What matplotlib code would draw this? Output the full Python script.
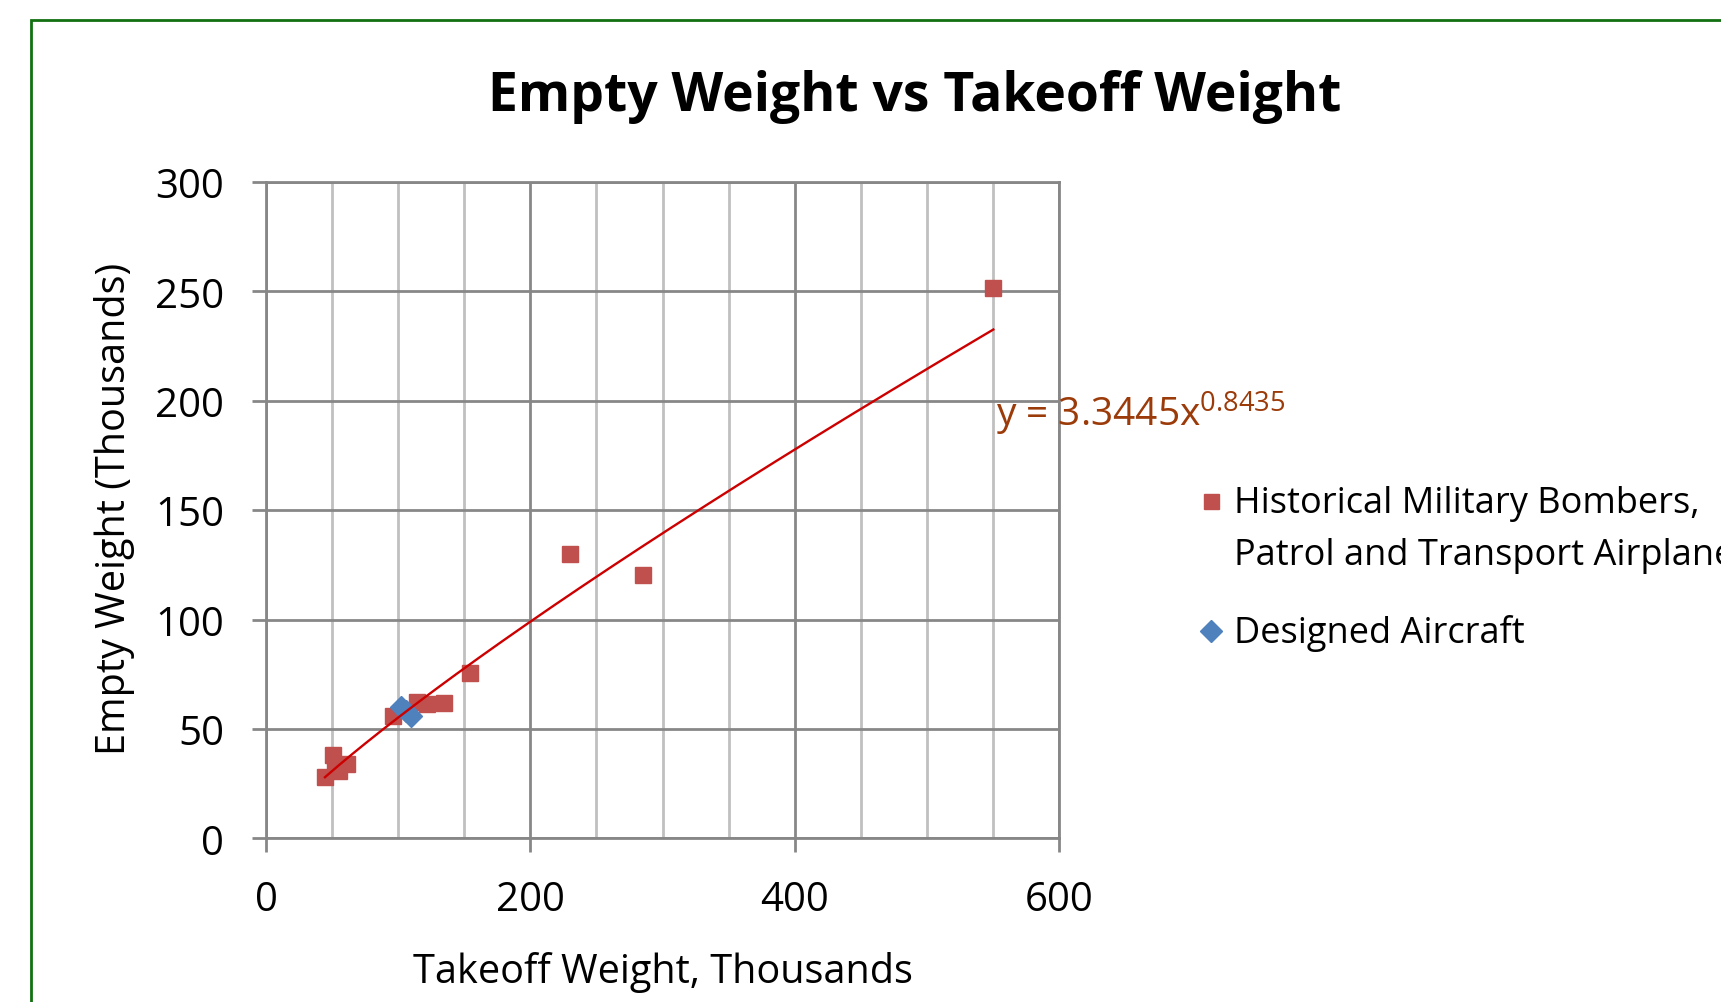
import numpy as np
import matplotlib
matplotlib.use("Agg")
import matplotlib.pyplot as plt
from matplotlib.lines import Line2D
from matplotlib.patches import Rectangle

# ---------------- data (thousands of lb) ----------------
hist_takeoff = [44.6, 50.9, 52.2, 55.0, 61.0, 96.3, 114.0, 121.6, 134.7, 154.3, 230.0, 285.5, 550.3]
hist_empty = [27.9, 38.1, 33.2, 30.9, 34.0, 56.0, 62.2, 61.4, 61.7, 75.4, 130.0, 120.4, 251.4]
design_takeoff = [102.0, 106.0, 109.5]
design_empty = [60.0, 58.0, 56.0]
fit_coef = 3.3445
fit_exp = 0.8435
x_ticks = [0, 200, 400, 600]
y_ticks = [0, 50, 100, 150, 200, 250, 300]

title = "Empty Weight vs Takeoff Weight"
xlabel = "Takeoff Weight, Thousands"
ylabel = "Empty Weight (Thousands)"
legend_labels = ["Historical Military Bombers,\nPatrol and Transport Airplanes", "Designed Aircraft"]
eq_label = "y = 3.3445x$^{0.8435}$"

# ---------------- style ----------------
base_font = "Open Sans"
plt.rcParams["font.family"] = [base_font, "DejaVu Sans"]
plt.rcParams["mathtext.fontset"] = "custom"
plt.rcParams["mathtext.rm"] = base_font
plt.rcParams["mathtext.it"] = base_font
plt.rcParams["mathtext.default"] = "regular"

RED = "#C0504D"
BLUE = "#4F81BD"
TREND = "#CC0000"
EQ = "#9B3B0A"
MAJ = "#878787"
MIN = "#C0C0C0"
GREEN = "#127012"

W, H = 1721, 1003
fig = plt.figure(figsize=(W / 100, H / 100), dpi=100)

def fx(px):
    return px / W

def fy(py):
    return 1 - py / H

L, R, T, B = 266, 1059, 183, 839.3
ax = fig.add_axes([fx(L), fy(B), fx(R) - fx(L), fy(T) - fy(B)])

ax.set_xlim(0, 600)
ax.set_ylim(0, 300)
ax.set_xticks(x_ticks)
ax.set_xticks(np.arange(0, 601, 50), minor=True)
ax.set_yticks(y_ticks)
ax.grid(which="minor", axis="x", color=MIN, linewidth=2.0, zorder=0)
ax.grid(which="major", axis="both", color=MAJ, linewidth=2.0, zorder=0.5)
ax.set_axisbelow(True)
for s in ax.spines.values():
    s.set_color(MAJ)
    s.set_linewidth(2.0)
ax.tick_params(which="major", direction="out", length=10, width=2.0, color=MAJ,
               labelsize=29, labelcolor="black")
ax.tick_params(axis="x", which="major", pad=20)
ax.tick_params(axis="y", which="major", pad=20)
ax.tick_params(which="minor", length=0)

ax.plot(hist_takeoff, hist_empty, linestyle="none", marker="s", markersize=11.5,
        color=RED, markeredgecolor=RED, zorder=3)
ax.plot(design_takeoff, design_empty, linestyle="none", marker="D", markersize=11.7,
        color=BLUE, markeredgecolor=BLUE, zorder=4)

xt = np.linspace(min(hist_takeoff), max(hist_takeoff), 200)
yt = fit_coef * (xt * 1000) ** fit_exp / 1000
ax.plot(xt, yt, color=TREND, linewidth=1.7, zorder=5)

ax.text(552, 188.6, eq_label, color=EQ, fontsize=28, ha="left", va="baseline",
        clip_on=False, zorder=6)

# titles / labels
fig.text(fx(915), fy(111), title, fontsize=38.5, fontweight="bold",
         ha="center", va="baseline")
fig.text(fx(662.5), fy(983.5), xlabel, fontsize=28.5, ha="center", va="baseline")
fig.text(fx(125), fy(509), ylabel, fontsize=28.5, rotation=90, rotation_mode="anchor",
         ha="center", va="baseline")

# legend (manual)
fig.add_artist(Line2D([fx(1211)], [fy(502.3)], marker="s", markersize=10.8,
                      color=RED, linestyle="none", transform=fig.transFigure))
fig.add_artist(Line2D([fx(1211)], [fy(631.7)], marker="D", markersize=11.7,
                      color=BLUE, linestyle="none", transform=fig.transFigure))
l1, l2 = legend_labels[0].split("\n")
fig.text(fx(1234), fy(513.3), l1, fontsize=26, ha="left", va="baseline")
fig.text(fx(1234), fy(565), l2, fontsize=26, ha="left", va="baseline")
fig.text(fx(1234), fy(643.3), legend_labels[1], fontsize=26, ha="left", va="baseline")

# chart-area border
fig.add_artist(Rectangle((fx(30.7), -0.2), 1.5, fy(21.3) + 0.2, transform=fig.transFigure,
                         fill=False, edgecolor=GREEN, linewidth=2.0))

fig.savefig("out.png", dpi=100)
